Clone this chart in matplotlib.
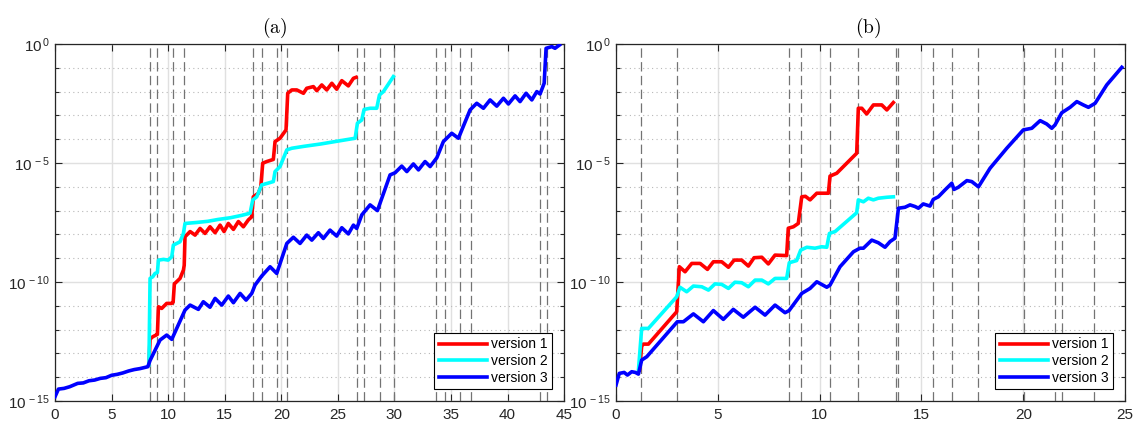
import numpy as np
import matplotlib
matplotlib.use("Agg")
import matplotlib.pyplot as plt
from matplotlib.ticker import FixedLocator, FuncFormatter, NullFormatter

plt.rcParams["font.family"] = ["Liberation Sans", "DejaVu Sans"]
plt.rcParams["mathtext.fontset"] = "custom"
plt.rcParams["mathtext.rm"] = "Liberation Sans"
plt.rcParams["mathtext.it"] = "Liberation Sans:italic"
plt.rcParams["mathtext.bf"] = "Liberation Sans:bold"

# ---- panel (a): x and log10(y) ----
a_v1_x = [8.3, 8.4, 8.64, 8.93, 9.05, 9.14, 9.43, 9.87, 10.32, 10.44, 10.55, 11.05, 11.35, 11.42,
          11.49, 11.94, 12.38, 12.82, 13.26, 13.7, 14.15, 14.59, 14.94, 15.32, 15.77, 16.21, 16.65,
          17.09, 17.39, 17.53, 17.98, 18.19, 18.36, 18.71, 19.3, 19.45, 19.89, 20.42, 20.57, 20.93,
          21.37, 21.96, 22.25, 22.84, 23.14, 23.58, 24.02, 24.47, 24.9, 25.35, 25.93, 26.38, 26.61]
a_v1_y = [-13.5, -12.4, -12.3, -12.23, -12.2, -11.04, -11.11, -10.9, -10.9, -10.85, -10.08, -9.85, -9.5, -9.3,
          -8.1, -7.88, -8.03, -7.75, -7.96, -7.68, -7.93, -7.61, -7.88, -7.54, -7.79, -7.46, -7.68,
          -7.39, -7.26, -6.42, -6.27, -6.0, -5.01, -4.94, -4.85, -4.1, -3.96, -3.61, -2.07, -1.93,
          -1.93, -2.07, -1.86, -1.79, -1.96, -1.72, -1.93, -1.65, -1.9, -1.54, -1.76, -1.44, -1.4]

a_v2_x = [8.3, 8.4, 8.64, 8.84, 9.05, 9.14, 9.6, 10.0, 10.32, 10.46, 11.05, 11.35, 11.49, 12.5,
          13.5, 14.44, 15.5, 16.5, 17.24, 17.48, 17.83, 18.27, 18.8, 19.3, 19.45, 19.89, 20.49,
          20.93, 22.0, 23.5, 25.0, 26.53, 26.73, 27.12, 27.32, 27.85, 28.44, 28.68, 29.03, 29.91]
a_v2_y = [-13.5, -9.85, -9.78, -9.64, -9.6, -9.08, -9.05, -9.08, -8.94, -8.45, -8.31, -7.96, -7.54, -7.5,
          -7.45, -7.37, -7.3, -7.2, -7.11, -6.55, -6.42, -5.92, -5.85, -5.78, -5.36, -5.15, -4.45,
          -4.38, -4.3, -4.2, -4.08, -3.96, -3.33, -3.19, -2.75, -2.7, -2.7, -2.14, -2.0, -1.37]

a_v3_x = [0, 0.3, 0.8, 1.3, 2.0, 2.5, 3.0, 3.5, 4.0, 4.5, 5.0, 5.5, 6.0, 6.5, 7.0, 7.5, 8.2, 8.4,
          9.28, 9.87, 10.32, 11.49, 11.94, 12.67, 13.11, 13.7, 14.15, 14.74, 15.32, 15.77, 16.36,
          16.89, 17.39, 17.68, 18.27, 19.01, 19.6, 20.49, 21.07, 21.66, 22.25, 22.7, 23.28, 23.72,
          24.31, 24.9, 25.35, 25.93, 26.38, 26.67, 27.12, 27.85, 28.5, 29.62, 30.06, 30.65, 31.1,
          31.68, 32.13, 32.71, 33.16, 33.75, 34.33, 35.07, 35.66, 36.69, 37.28, 37.87, 38.46, 39.05,
          39.64, 40.08, 40.67, 41.11, 41.64, 42.15, 42.59, 42.88, 43.24, 43.41, 43.92, 44.2, 44.6]
a_v3_y = [-14.82, -14.5, -14.47, -14.4, -14.26, -14.24, -14.15, -14.12, -14.05, -14.02, -13.92, -13.88,
          -13.82, -13.74, -13.68, -13.64, -13.56, -13.3, -12.44, -12.23, -12.41, -11.18, -10.97, -11.15,
          -10.83, -11.06, -10.69, -10.97, -10.59, -10.87, -10.48, -10.76, -10.48, -10.13, -9.75, -9.36,
          -9.64, -8.38, -8.12, -8.38, -8.03, -8.24, -7.93, -8.17, -7.82, -8.07, -7.72, -7.98, -7.61,
          -7.75, -7.18, -6.76, -7.0, -5.5, -5.41, -5.13, -5.36, -5.04, -5.29, -4.94, -5.15, -4.78,
          -4.1, -3.75, -3.96, -2.77, -2.49, -2.7, -2.35, -2.61, -2.28, -2.52, -2.18, -2.42, -2.07,
          -2.35, -2.0, -2.1, -1.65, -0.18, -0.11, -0.18, -0.04]

a_marks = [8.38, 9.05, 10.44, 11.4, 17.47, 18.26, 19.62, 20.53, 26.7, 27.3, 28.7, 29.94,
           33.7, 34.5, 35.8, 36.75, 42.9, 43.5]

# ---- panel (b) ----
b_v1_x = [1.15, 1.26, 1.34, 1.59, 2.98, 3.11, 3.39, 3.72, 4.13, 4.49, 4.78, 5.19, 5.52, 5.8, 6.17,
          6.5, 6.78, 7.16, 7.48, 7.81, 8.38, 8.46, 8.71, 8.95, 9.12, 9.3, 9.53, 9.86, 10.43, 10.51,
          10.84, 11.82, 11.9, 12.07, 12.31, 12.64, 13.05, 13.3, 13.62]
b_v1_y = [-13.7, -12.7, -12.61, -12.61, -11.25, -9.36, -9.57, -9.22, -9.22, -9.47, -9.15, -9.15, -9.38,
          -9.08, -9.08, -9.33, -8.98, -8.96, -9.24, -8.87, -8.89, -7.74, -7.68, -7.54, -6.42, -6.4,
          -6.55, -6.27, -6.27, -5.55, -5.43, -4.59, -2.7, -2.7, -2.94, -2.56, -2.56, -2.77, -2.46]

b_v2_x = [1.1, 1.26, 1.59, 2.98, 3.14, 3.47, 3.8, 4.21, 4.54, 4.86, 5.19, 5.52, 5.84, 6.17, 6.5,
          6.83, 7.16, 7.48, 7.81, 8.38, 8.51, 8.87, 9.07, 9.37, 9.77, 10.1, 10.35, 10.48, 10.76,
          11.82, 11.9, 12.15, 12.39, 12.64, 12.88, 13.3, 13.62]
b_v2_y = [-13.7, -11.95, -11.95, -10.62, -10.22, -10.41, -10.17, -10.2, -10.34, -10.08, -10.1, -10.27,
          -10.01, -10.03, -10.2, -9.92, -9.92, -10.08, -9.85, -9.85, -9.19, -9.1, -8.66, -8.54, -8.58,
          -8.52, -8.54, -7.96, -7.88, -7.09, -6.55, -6.63, -6.48, -6.55, -6.48, -6.44, -6.42]

b_v3_x = [0, 0.16, 0.4, 0.56, 0.77, 0.95, 1.1, 1.26, 1.51, 3.01, 3.31, 3.8, 4.29, 4.78, 5.27, 5.76,
          6.25, 6.83, 7.32, 7.81, 8.3, 8.5, 9.12, 9.53, 9.86, 10.35, 10.51, 11.0, 11.66, 11.98,
          12.15, 12.56, 12.88, 13.21, 13.46, 13.7, 13.87, 14.19, 14.44, 14.69, 14.85, 15.09, 15.42,
          15.58, 15.83, 16.16, 16.49, 16.6, 16.81, 17.23, 17.47, 17.8, 18.37, 19.19, 20.0, 20.42,
          20.83, 21.15, 21.4, 21.56, 21.89, 22.3, 22.63, 22.95, 23.2, 23.53, 24.1, 24.84]
b_v3_y = [-14.33, -13.84, -13.8, -13.91, -13.77, -13.8, -13.87, -13.28, -13.14, -11.67, -11.67, -11.34,
          -11.67, -11.2, -11.57, -11.15, -11.48, -11.06, -11.39, -10.97, -11.29, -11.2, -10.48, -10.27,
          -9.99, -10.22, -10.13, -9.36, -8.73, -8.58, -8.58, -8.24, -8.35, -8.54, -8.3, -8.16, -6.9,
          -6.86, -6.76, -6.83, -6.9, -6.72, -6.81, -6.53, -6.42, -6.13, -5.85, -6.11, -6.02, -5.74,
          -5.78, -6.0, -5.22, -4.38, -3.61, -3.54, -3.22, -3.36, -3.54, -3.4, -2.89, -2.66, -2.42,
          -2.56, -2.66, -2.49, -1.72, -0.98]

b_marks = [1.23, 3.01, 8.5, 9.09, 10.5, 11.9, 13.74, 13.85, 15.55, 16.52, 17.8, 20.02,
           21.56, 21.92, 23.46]

labels = ["version 1", "version 2", "version 3"]
colors = ["#ff0000", "#00ffff", "#0000ff"]


def draw_panel(ax, series, marks, xmax, xticks, title, title_x):
    for xm in marks:
        ax.axvline(xm, color=(0.45, 0.45, 0.45), lw=0.9, dashes=(7.5, 3.5), zorder=1)
    for (x, ly), color, label in zip(series, colors, labels):
        ax.plot(x, 10.0 ** np.array(ly), color=color, lw=2.6, label=label,
                solid_joinstyle="round", zorder=3)

    ax.set_yscale("log")
    ax.set_ylim(1e-15, 1)
    ax.set_xlim(0, xmax)
    ax.set_xticks(xticks)
    ax.yaxis.set_major_locator(FixedLocator([1e-15, 1e-10, 1e-5, 1]))
    ax.yaxis.set_minor_locator(FixedLocator([10.0 ** k for k in range(-15, 1)]))
    ax.yaxis.set_minor_formatter(NullFormatter())
    ax.yaxis.set_major_formatter(FuncFormatter(lambda v, p: r"$10^{\,%d}$" % round(np.log10(v))))

    ax.set_axisbelow(True)
    ax.grid(True, which="major", color=(0.88, 0.88, 0.88), lw=1.0)
    ax.grid(True, which="minor", axis="y", color=(0.72, 0.72, 0.72), lw=0.8, ls=(0, (1, 3)))

    ax.tick_params(which="both", direction="in", top=True, right=True,
                   colors=(0.15, 0.15, 0.15), labelsize=11, width=0.8)
    ax.tick_params(which="major", length=5)
    ax.tick_params(which="minor", length=3)
    ax.tick_params(axis="x", pad=5)
    for sp in ax.spines.values():
        sp.set_color((0.15, 0.15, 0.15))
        sp.set_linewidth(0.9)

    ax.set_title(r"$\mathrm{" + title + "}$", math_fontfamily="cm", fontsize=14,
                 x=title_x, pad=8)

    leg = ax.legend(loc="lower right", fontsize=10, handlelength=3.5, fancybox=False,
                    framealpha=1, edgecolor="black", labelspacing=0.2,
                    borderaxespad=0.85, borderpad=0.3, handletextpad=0.3)
    leg.get_frame().set_linewidth(0.8)


fig = plt.figure(figsize=(11.37, 4.26), dpi=100)
ax_a = fig.add_axes([0.0484, 0.0587, 0.4477, 0.838])
ax_b = fig.add_axes([0.5418, 0.0587, 0.4477, 0.838])

draw_panel(ax_a, [(a_v1_x, a_v1_y), (a_v2_x, a_v2_y), (a_v3_x, a_v3_y)],
           a_marks, 45, range(0, 46, 5), "(a)", 0.432)
draw_panel(ax_b, [(b_v1_x, b_v1_y), (b_v2_x, b_v2_y), (b_v3_x, b_v3_y)],
           b_marks, 25, range(0, 26, 5), "(b)", 0.495)

fig.savefig("out.png", dpi=100)
